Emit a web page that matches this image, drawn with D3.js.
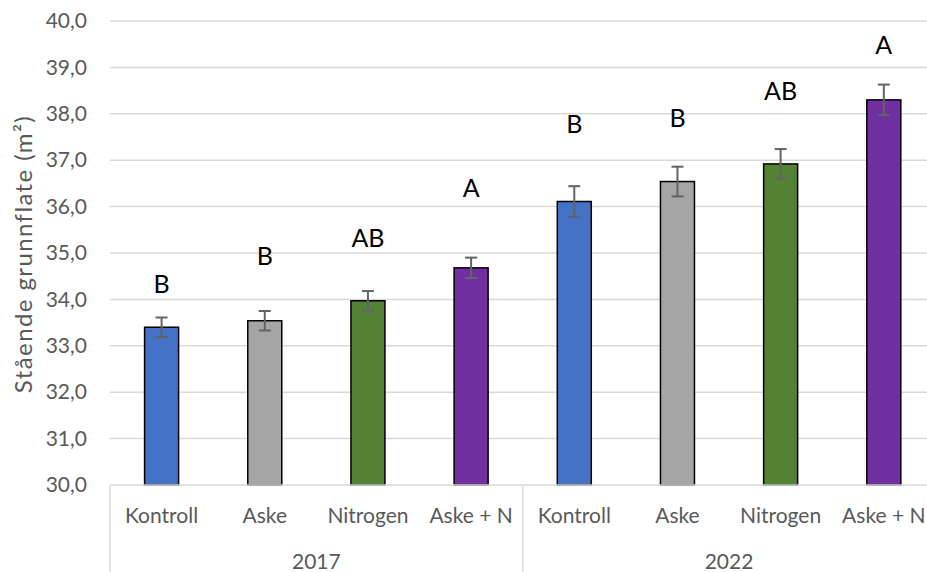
<!DOCTYPE html>
<html>
<head>
<meta charset="utf-8">
<script src="https://cdn.jsdelivr.net/npm/d3@7"></script>
<style>
  html, body { margin: 0; padding: 0; background: #fff; }
  svg { display: block; font-family: Lato, "Liberation Sans", sans-serif; }
</style>
</head>
<body>
<svg id="chart" width="927" height="572"></svg>
<script>
// Standing basal area per treatment, 2017 and 2022
const years = ["2017", "2022"];
const treatments = ["Kontroll", "Aske", "Nitrogen", "Aske + N"];
const colors = ["#4472C4", "#A5A5A5", "#548235", "#7030A0"];
const values2017 = [33.40, 33.54, 33.97, 34.68];
const values2022 = [36.11, 36.54, 36.92, 38.30];
const errors2017 = [0.21, 0.21, 0.21, 0.22];
const errors2022 = [0.33, 0.32, 0.32, 0.33];
const letters2017 = ["B", "B", "AB", "A"];
const letters2022 = ["B", "B", "AB", "A"];
// Height (in axis units) of the significance letters
const letterPos2017 = [34.32, 34.92, 35.32, 36.4];
const letterPos2022 = [37.78, 37.9, 38.48, 39.48];
const yTicks = [30, 31, 32, 33, 34, 35, 36, 37, 38, 39, 40];

const rows = [];
years.forEach((yr, gi) => {
  const vals = gi === 0 ? values2017 : values2022;
  const errs = gi === 0 ? errors2017 : errors2022;
  const lets = gi === 0 ? letters2017 : letters2022;
  const lpos = gi === 0 ? letterPos2017 : letterPos2022;
  treatments.forEach((t, i) => {
    rows.push({ key: yr + "|" + t, year: yr, treatment: t, value: vals[i],
      err: errs[i], letter: lets[i], letterY: lpos[i], color: colors[i] });
  });
});

const svg = d3.select("#chart");
const margin = { left: 110, top: 21, bottom: 485 };
const plotRight = 935.4;

const x = d3.scaleBand()
  .domain(rows.map(d => d.key))
  .range([margin.left, plotRight])
  .paddingInner(0)
  .paddingOuter(0);

const y = d3.scaleLinear().domain([30, 40]).range([margin.bottom, margin.top]);

// Gridlines
svg.append("g")
  .selectAll("line")
  .data(yTicks.slice(1))
  .join("line")
  .attr("x1", margin.left).attr("x2", 927)
  .attr("y1", d => y(d)).attr("y2", d => y(d))
  .attr("stroke", "#D9D9D9").attr("stroke-width", 1.5);

// Y axis tick labels
const yAxis = d3.axisLeft(y).tickValues(yTicks).tickSize(0).tickPadding(23)
  .tickFormat(d => d3.format(".1f")(d).replace(".", ","));
const yg = svg.append("g").attr("transform", `translate(${margin.left},0)`).call(yAxis);
yg.select(".domain").remove();
yg.selectAll("text").attr("font-size", 21).attr("fill", "#595959")
  .attr("font-family", "Lato, 'Liberation Sans', sans-serif");

// Y axis title
svg.append("text")
  .attr("transform", `translate(32,${(margin.top + margin.bottom) / 2 + 1}) rotate(-90)`)
  .attr("text-anchor", "middle")
  .attr("font-size", 24).attr("letter-spacing", 1.4).attr("fill", "#595959")
  .text("Stående grunnflate (m²)");

// Bars
const barW = 34;
svg.append("g")
  .selectAll("rect")
  .data(rows)
  .join("rect")
  .attr("x", d => x(d.key) + x.bandwidth() / 2 - barW / 2)
  .attr("width", barW)
  .attr("y", d => y(d.value))
  .attr("height", d => y(30) - y(d.value))
  .attr("fill", d => d.color)
  .attr("stroke", "#000").attr("stroke-width", 1.5);

// Error bars
const eg = svg.append("g").attr("stroke", "#636363").attr("stroke-width", 2);
rows.forEach(d => {
  const cx = x(d.key) + x.bandwidth() / 2;
  eg.append("line").attr("x1", cx).attr("x2", cx)
    .attr("y1", y(d.value + d.err)).attr("y2", y(d.value - d.err));
  [d.value + d.err, d.value - d.err].forEach(v => {
    eg.append("line").attr("x1", cx - 6).attr("x2", cx + 6)
      .attr("y1", y(v)).attr("y2", y(v));
  });
});

// Significance letters
svg.append("g")
  .selectAll("text")
  .data(rows)
  .join("text")
  .attr("x", d => x(d.key) + x.bandwidth() / 2)
  .attr("y", d => y(d.letterY))
  .attr("dy", "0.35em")
  .attr("text-anchor", "middle")
  .attr("font-size", 25).attr("fill", "#000")
  .text(d => d.letter);

// Category axis: baseline and group separators
svg.append("line")
  .attr("x1", margin.left).attr("x2", 927)
  .attr("y1", y(30)).attr("y2", y(30))
  .attr("stroke", "#D9D9D9").attr("stroke-width", 1.5);

const groupW = (plotRight - margin.left) / years.length;
d3.range(years.length + 1).forEach(i => {
  const gx = margin.left + i * groupW;
  svg.append("line")
    .attr("x1", gx).attr("x2", gx)
    .attr("y1", y(30)).attr("y2", 572)
    .attr("stroke", "#D9D9D9").attr("stroke-width", 1.5);
});

// Treatment labels
svg.append("g")
  .selectAll("text")
  .data(rows)
  .join("text")
  .attr("x", d => x(d.key) + x.bandwidth() / 2)
  .attr("y", 523)
  .attr("text-anchor", "middle")
  .attr("font-size", 21).attr("fill", "#595959")
  .text(d => d.treatment);

// Year labels
svg.append("g")
  .selectAll("text")
  .data(years)
  .join("text")
  .attr("x", (d, i) => margin.left + (i + 0.5) * groupW)
  .attr("y", 569)
  .attr("text-anchor", "middle")
  .attr("font-size", 21).attr("fill", "#595959")
  .text(d => d);
</script>
</body>
</html>
